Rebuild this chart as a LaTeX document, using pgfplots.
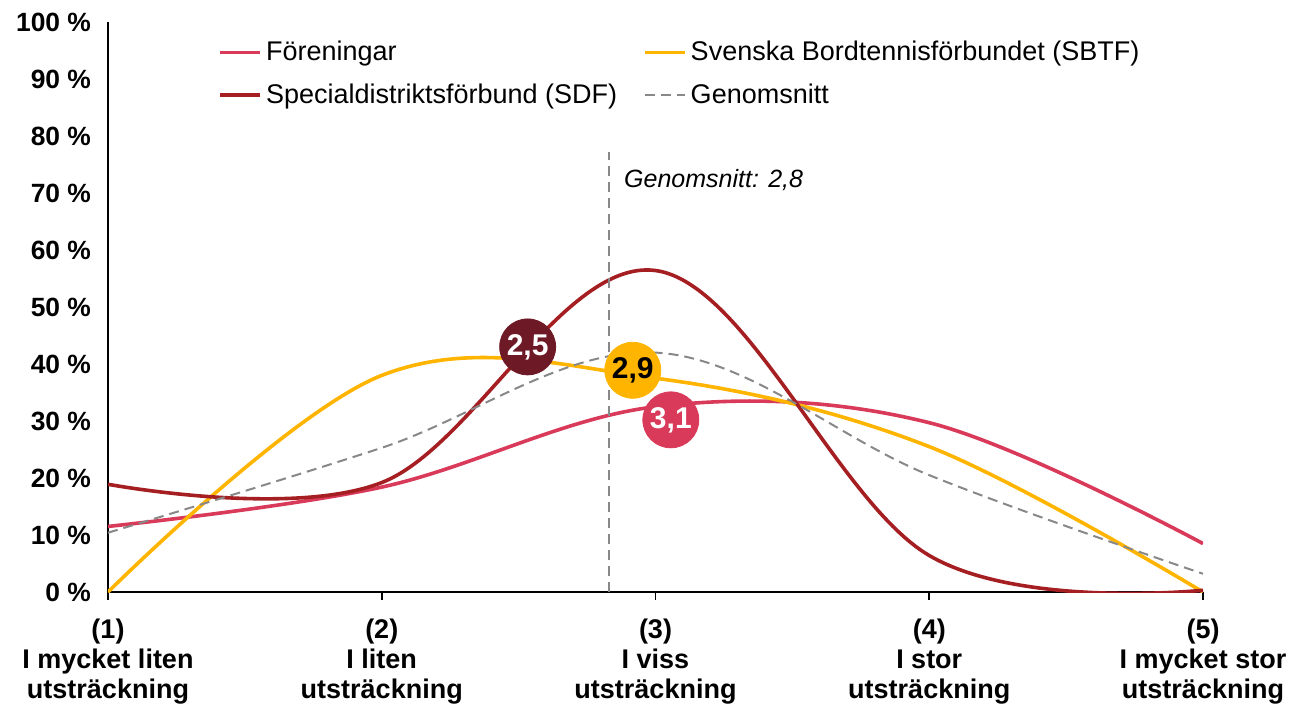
\documentclass[border=0pt]{standalone}
\usepackage{fontspec}
\setmainfont{Liberation Sans}
\usepackage{pgfplots}
\pgfplotsset{compat=1.18}
\definecolor{foren}{RGB}{217,58,90}
\definecolor{sdf}{RGB}{165,30,34}
\definecolor{sdfdark}{RGB}{109,26,38}
\definecolor{sbtf}{RGB}{255,180,0}
\definecolor{snitt}{RGB}{136,136,136}

\begin{document}
\begin{tikzpicture}
\begin{axis}[
  name=ax,
  scale only axis, width=547.5pt, height=285pt,
  xmin=1, xmax=5, ymin=0, ymax=100,
  axis x line*=bottom, axis y line*=left,
  axis line style={line width=0.8pt, black},
  xtick={1,2,3,4,5}, ytick={0,10,...,100},
  tick align=outside, major tick length=4pt,
  xtick style={line width=0.8pt, black},
  ytick style={draw=none},
  /pgf/number format/assume math mode=true,
  yticklabel={\pgfmathprintnumber{\tick}~\%},
  yticklabel style={font=\fontsize{13.2}{15}\selectfont\bfseries, xshift=-1pt},
  xticklabels={{(1)\\I mycket liten\\utsträckning},{(2)\\I liten\\utsträckning},{(3)\\I viss\\utsträckning},{(4)\\I stor\\utsträckning},{(5)\\I mycket stor\\utsträckning}},
  xticklabel style={align=center, font=\fontsize{13.5}{15}\selectfont\bfseries, yshift=-6pt},
  legend columns=2,
  legend style={at={(0.095,0.981)}, anchor=north west, draw=none, fill=none,
    font=\fontsize{13.5}{16}\selectfont, row sep=6pt,
    /tikz/every even column/.append style={column sep=11pt}},
  legend cell align=left,
  legend image code/.code={\draw[#1] (0pt,0pt) -- (20pt,0pt);},
]
\addplot[foren, line width=1.8pt, smooth, tension=0.6]
  coordinates {(1,11.5)(2,18.4)(3,32.5)(4,29.7)(5,8.5)};
\addlegendentry{Föreningar}
\addplot[sbtf, line width=1.8pt, smooth, tension=0.6]
  coordinates {(1,0)(2,38.0)(3,37.5)(4,25.5)(5,0)};
\addlegendentry{Svenska Bordtennisförbundet (SBTF)}
\addplot[sdf, line width=1.8pt, smooth, tension=0.6]
  coordinates {(1,18.9)(2,19.2)(3,56.4)(4,6.4)(5,0.3)};
\addlegendentry{Specialdistriktsförbund (SDF)}
\addplot[snitt, line width=1pt, dash pattern=on 5pt off 3pt, smooth, tension=0.6]
  coordinates {(1,10.4)(2,25.3)(3,42.0)(4,20.5)(5,3.2)};
\addlegendentry{Genomsnitt}

% average marker line
\addplot[snitt, line width=1pt, dash pattern=on 5pt off 3pt, forget plot]
  coordinates {(2.83,0)(2.83,77.2)};
\node[anchor=west, font=\fontsize{12.5}{15}\selectfont\itshape] at (axis cs:2.86,72.3) {Genomsnitt: 2,8};

% bubbles
\addplot[only marks, mark=*, mark size=14pt, sdfdark, forget plot,
  nodes near coords={\textcolor{white}{2,5}},
  every node near coord/.style={anchor=center, font=\fontsize{15}{17}\selectfont\bfseries}]
  coordinates {(2.533,43.0)};
\addplot[only marks, mark=*, mark size=14pt, sbtf, forget plot,
  nodes near coords={\textcolor{black}{2,9}},
  every node near coord/.style={anchor=center, font=\fontsize{15}{17}\selectfont\bfseries}]
  coordinates {(2.917,38.9)};
\addplot[only marks, mark=*, mark size=14pt, foren, forget plot,
  nodes near coords={\textcolor{white}{3,1}},
  every node near coord/.style={anchor=center, font=\fontsize{15}{17}\selectfont\bfseries}]
  coordinates {(3.056,30.2)};
\end{axis}
\pgfresetboundingbox
\path ([xshift=-54pt,yshift=-57pt]ax.south west) rectangle ([xshift=43pt,yshift=11pt]ax.north east);
\end{tikzpicture}
\end{document}
